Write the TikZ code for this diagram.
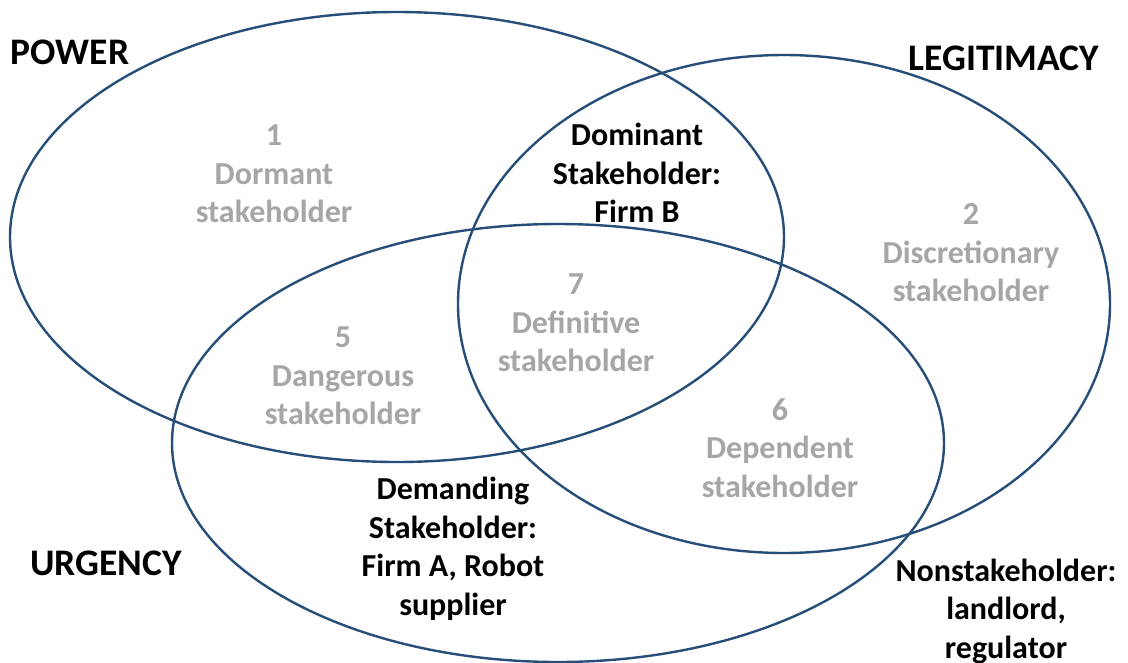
\documentclass[tikz,border=0pt]{standalone}
\usepackage{fontspec}
\setmainfont{Carlito}
\definecolor{ringblue}{RGB}{38,78,120}
\definecolor{graytxt}{RGB}{166,166,166}
\tikzset{
  ring/.style={draw=ringblue, line width=2.4pt},
  biglab/.style={font=\fontsize{37.5}{42}\selectfont\bfseries, text=black, inner sep=0pt},
  graylab/.style={font=\fontsize{32}{38.5}\selectfont\bfseries, text=graytxt, align=center, inner sep=0pt},
  blacklab/.style={font=\fontsize{32}{38.5}\selectfont\bfseries, text=black, align=center, inner sep=0pt}
}
\begin{document}
\begin{tikzpicture}[x=1pt,y=-1pt]
\useasboundingbox (0,0) rectangle (1128,662);
\fill[white] (0,0) rectangle (1128,662);
\draw[ring] (397,237) ellipse [x radius=387pt, y radius=225pt];
\draw[ring] (784,304) ellipse [x radius=326pt, y radius=249pt];
\draw[ring] (558,443) ellipse [x radius=386pt, y radius=219pt];

\node[biglab] (power) at (70,52) {POWER};
\node[biglab] (legit) at (1004,58) {LEGITIMACY};
\node[biglab] (urg) at (106,563) {URGENCY};

\node[graylab] (dormant) at (274,174) {1\\Dormant\\stakeholder};
\node[blacklab] (dominant) at (637,173) {Dominant\\Stakeholder:\\Firm B};
\node[graylab] (discr) at (971,253) {2\\Discretionary\\stakeholder};
\node[graylab] (defin) at (576,323) {7\\Definitive\\stakeholder};
\node[graylab] (danger) at (343,376) {5\\Dangerous\\stakeholder};
\node[graylab] (depend) at (780,448) {6\\Dependent\\stakeholder};
\node[blacklab] (demand) at (453,549) {Demanding\\Stakeholder:\\Firm A, Robot\\supplier};
\node[blacklab] (nonst) at (1006,611) {Nonstakeholder:\\landlord,\\regulator};
\end{tikzpicture}
\end{document}
